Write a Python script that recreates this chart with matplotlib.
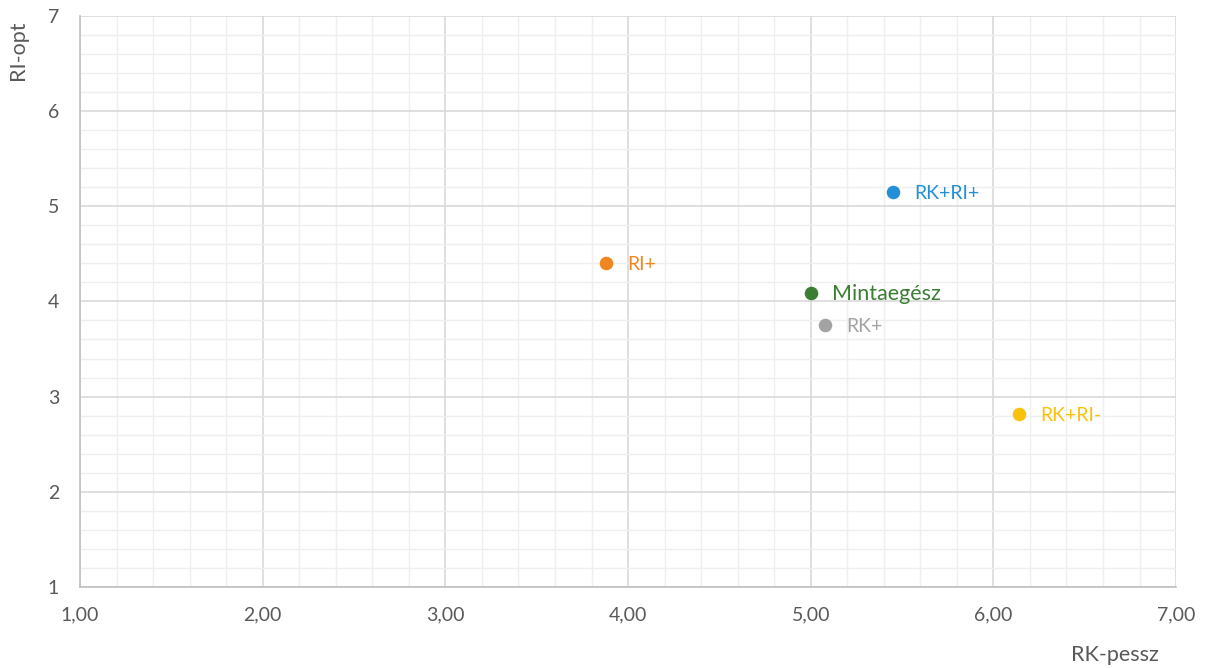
import numpy as np
import matplotlib.pyplot as plt
from matplotlib.ticker import MultipleLocator, FuncFormatter

plt.rcParams['font.family'] = ['Lato', 'DejaVu Sans']

# data
groups = ['RK+RI+', 'RI+', 'Mintaegész', 'RK+', 'RK+RI-']
rk_pessz = [5.45, 3.88, 5.00, 5.08, 6.14]
ri_opt = [5.15, 4.40, 4.09, 3.75, 2.82]
colors = ['#2390D6', '#F0861E', '#3B7D32', '#A3A3A3', '#F9C20A']
label_sizes = [14, 14, 15.5, 14, 14]

fig = plt.figure(figsize=(12.05, 6.68), dpi=100)
ax = fig.add_axes([0.0664, 0.1213, 0.9096, 0.855])

for x, y, name, c, fs in zip(rk_pessz, ri_opt, groups, colors, label_sizes):
    ax.scatter(x, y, s=95, color=c, zorder=3, linewidths=0)
    ax.annotate(name, (x, y), xytext=(15, -1), textcoords='offset points',
                va='center', ha='left', color=c, fontsize=fs)

ax.set_xlim(1, 7)
ax.set_ylim(1, 7)
ax.xaxis.set_major_locator(MultipleLocator(1))
ax.yaxis.set_major_locator(MultipleLocator(1))
ax.xaxis.set_minor_locator(MultipleLocator(0.2))
ax.yaxis.set_minor_locator(MultipleLocator(0.2))
ax.xaxis.set_major_formatter(FuncFormatter(lambda v, p: f'{v:.2f}'.replace('.', ',')))
ax.yaxis.set_major_formatter(FuncFormatter(lambda v, p: f'{v:.0f}'))

ax.grid(which='major', color='#D9D9D9', linewidth=1.2)
ax.grid(which='minor', color='#EFEFEF', linewidth=1.0)
ax.set_axisbelow(True)

for side in ['top', 'right']:
    ax.spines[side].set_visible(False)
for side in ['left', 'bottom']:
    ax.spines[side].set_color('#BFBFBF')
    ax.spines[side].set_linewidth(1.2)

ax.tick_params(which='both', length=0)
ax.tick_params(axis='x', pad=14, labelsize=14, labelcolor='#595959')
ax.tick_params(axis='y', pad=15, labelsize=14, labelcolor='#595959')

fig.text(1115 / 1205, 1 - 655 / 668, 'RK-pessz', ha='center', va='center',
         fontsize=15.5, color='#595959')
fig.text(18 / 1205, 1 - 50 / 668, 'RI-opt', ha='center', va='center',
         rotation=90, fontsize=15.5, color='#595959')

fig.savefig('out.png', dpi=100)
